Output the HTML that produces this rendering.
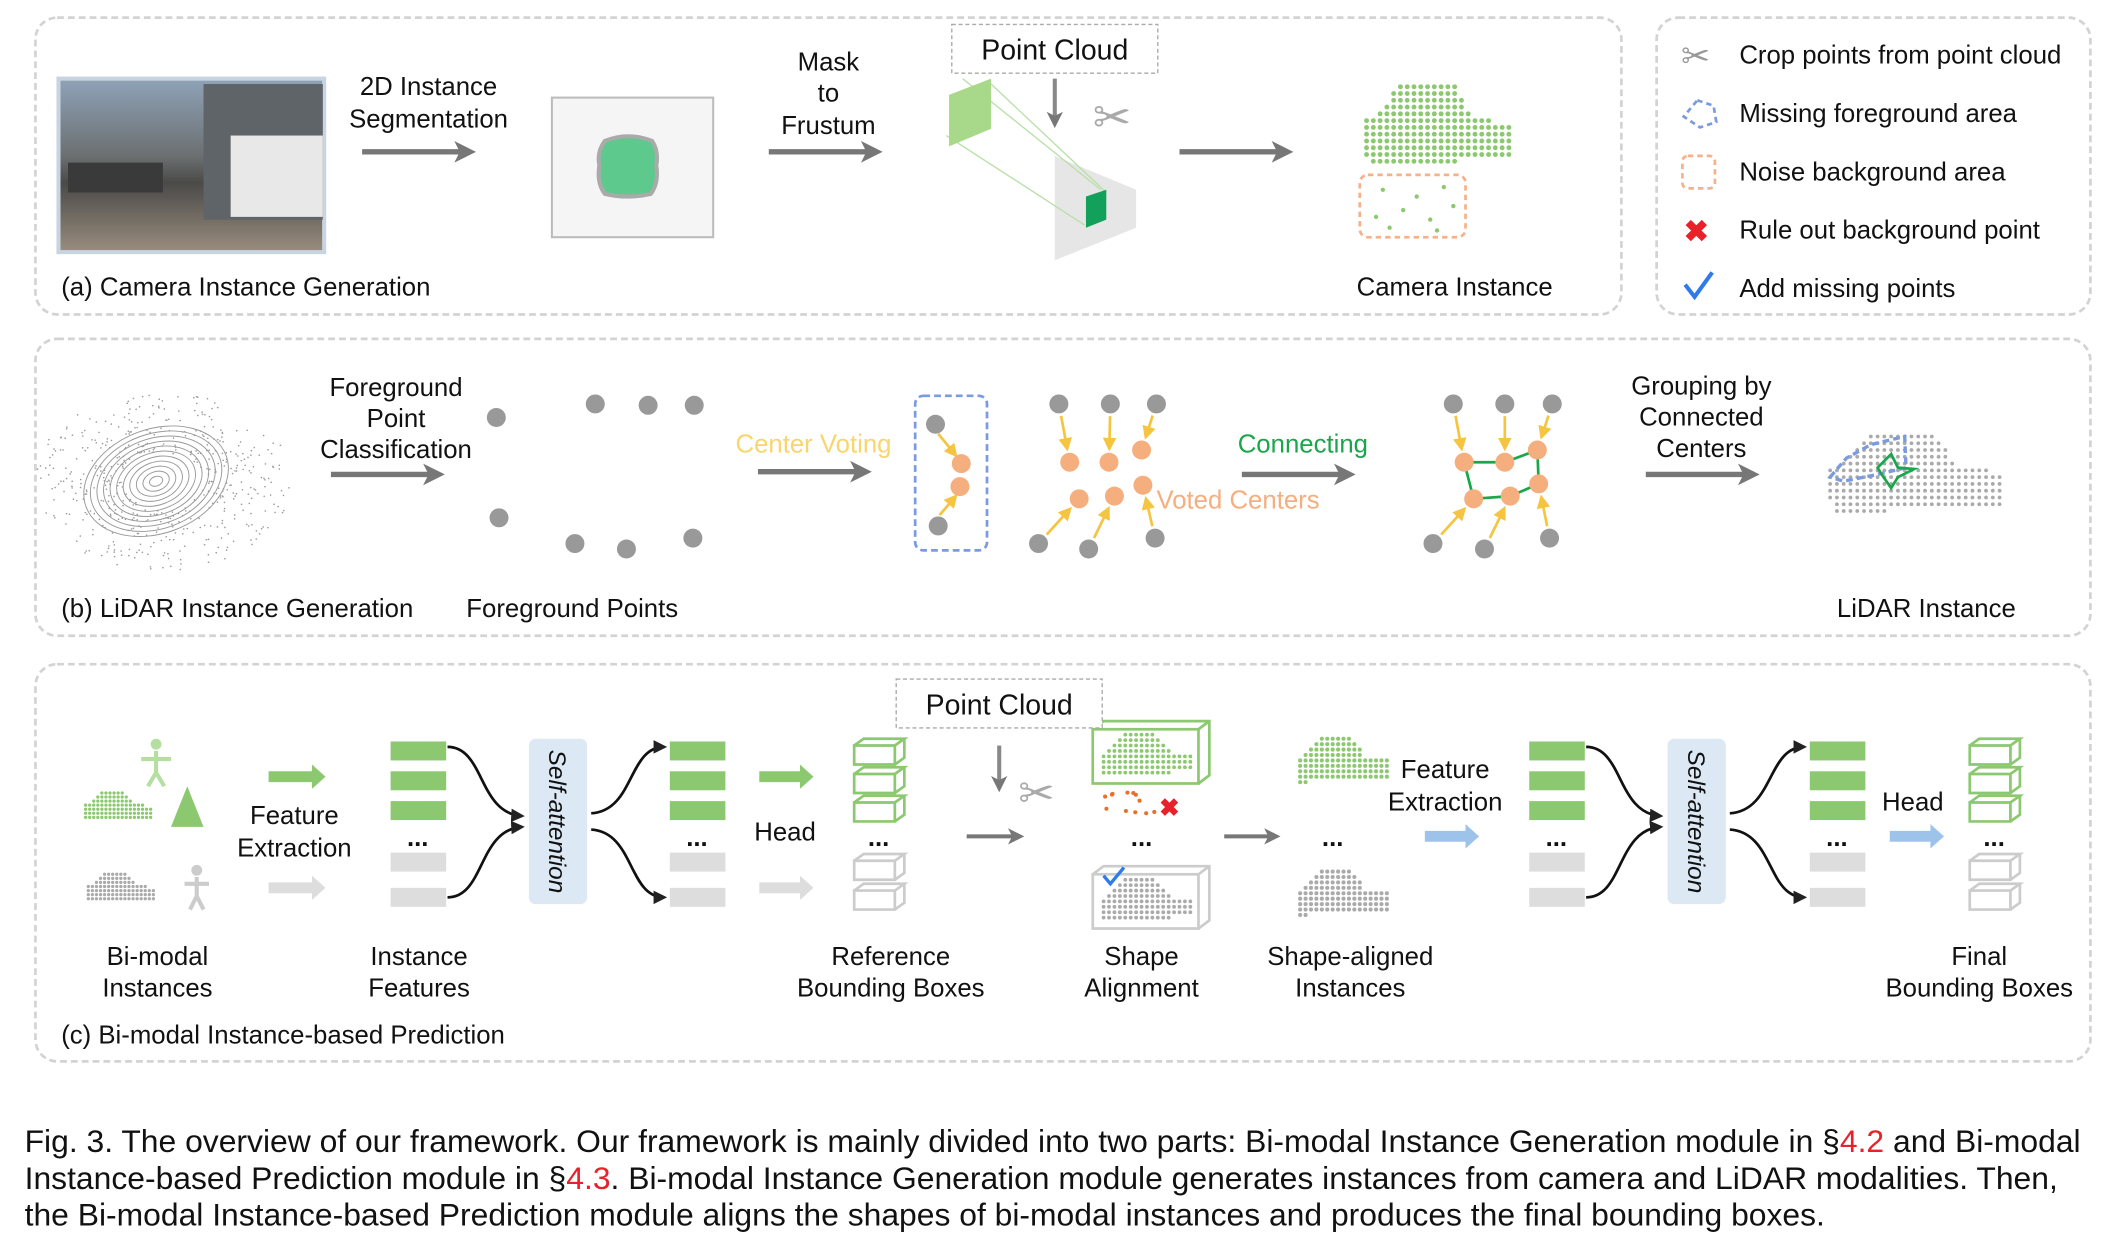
<!DOCTYPE html>
<html><head><meta charset="utf-8"><style>
html,body{margin:0;padding:0;background:#fff;}
svg{display:block;}
text{font-family:"Liberation Sans",Arial,sans-serif;font-size:19px;fill:#111;}
.c{text-anchor:middle;}
.cap{font-size:23.5px;}
</style></head><body>
<svg id="s" width="2115" height="1243" viewBox="0 0 1560 917" xmlns="http://www.w3.org/2000/svg">
<defs>
<marker id="ag" markerWidth="4" markerHeight="4" refX="2.5" refY="2" orient="auto" markerUnits="strokeWidth"><path d="M0,0 L4,2 L0,4 L1,2z" fill="#777"/></marker>
<marker id="ak" markerWidth="5" markerHeight="5" refX="4" refY="2.5" orient="auto" markerUnits="strokeWidth"><path d="M0,0 L5,2.5 L0,5z" fill="#222"/></marker>
<marker id="ay" markerWidth="5" markerHeight="5" refX="4" refY="2.5" orient="auto" markerUnits="strokeWidth"><path d="M0,0 L5,2.5 L0,5z" fill="#f5c542"/></marker>
<linearGradient id="ph" x1="0" y1="0" x2="0" y2="1"><stop offset="0" stop-color="#8fa3b8"/><stop offset="0.45" stop-color="#6b6f70"/><stop offset="0.6" stop-color="#4a4a48"/><stop offset="1" stop-color="#9a8d7e"/></linearGradient>
</defs>
<g fill="none" stroke="#d3d3d3" stroke-width="2" stroke-dasharray="5,3">
<rect x="26" y="13" width="1170" height="219" rx="16"/>
<rect x="1222" y="13" width="320" height="219" rx="16"/>
<rect x="26" y="250" width="1516" height="219" rx="16"/>
<rect x="26" y="490" width="1516" height="293" rx="16"/>
</g>
<rect x="43" y="58" width="196" height="128" fill="url(#ph)" stroke="#c8d4e2" stroke-width="3"/>
<rect x="150" y="62" width="88" height="100" fill="#5e6468"/><rect x="170" y="100" width="68" height="60" fill="#e8e8e8"/>
<rect x="50" y="120" width="70" height="22" fill="#3a3a3a"/>
<text class="c" x="316" y="70">2D Instance</text><text class="c" x="316" y="94">Segmentation</text>
<line x1="267" y1="112" x2="345" y2="112" stroke="#777" stroke-width="4" marker-end="url(#ag)"/>
<rect x="407" y="72" width="119" height="103" fill="#f5f5f5" stroke="#bbb" stroke-width="1.5"/>
<path d="M446,104 Q463,97 481,104 Q486,112 484,122 Q486,135 480,143 Q463,147 446,143 Q440,135 442,122 Q440,112 446,104z" fill="#5dc98d" stroke="#aaa" stroke-width="3"/>
<text class="c" x="611" y="52">Mask</text><text class="c" x="611" y="75">to</text><text class="c" x="611" y="99">Frustum</text>
<line x1="567" y1="112" x2="645" y2="112" stroke="#777" stroke-width="4" marker-end="url(#ag)"/>
<rect x="702" y="18" width="152" height="36" fill="#fff" stroke="#aaa" stroke-dasharray="3,2"/>
<text class="c" x="778" y="44" style="font-size:21px">Point Cloud</text>
<path d="M778,115 L838,140 L838,168 L778,192z" fill="#e6e6e6"/>
<g stroke="#b9e0a8" stroke-width="1" fill="none"><line x1="731" y1="62" x2="816" y2="142"/><line x1="698" y1="100" x2="800" y2="166"/><line x1="710" y1="58" x2="812" y2="140"/></g>
<path d="M700,70 L731,58 L731,95 L700,108z" fill="#a8d88a"/>
<path d="M801,145 L816,140 L816,162 L801,168z" fill="#13a05a"/>
<line x1="778" y1="58" x2="778" y2="90" stroke="#888" stroke-width="3" marker-end="url(#ag)"/>
<text x="806" y="98" style="font-size:34px;fill:#aaa">✂</text>
<line x1="870" y1="112" x2="948" y2="112" stroke="#777" stroke-width="4" marker-end="url(#ag)"/>
<g id="camcar"></g>
<rect x="1003" y="129" width="78" height="46" rx="6" fill="none" stroke="#f5b28a" stroke-width="2" stroke-dasharray="4,3"/>
<g fill="#8cc870"><circle cx="1020" cy="140" r="1.6"/><circle cx="1045" cy="145" r="1.6"/><circle cx="1065" cy="138" r="1.6"/><circle cx="1015" cy="160" r="1.6"/><circle cx="1035" cy="155" r="1.6"/><circle cx="1055" cy="162" r="1.6"/><circle cx="1072" cy="152" r="1.6"/><circle cx="1025" cy="168" r="1.6"/><circle cx="1060" cy="170" r="1.6"/></g>
<text x="45" y="218">(a) Camera Instance Generation</text>
<text class="c" x="1073" y="218">Camera Instance</text>
<text x="1240" y="50" style="font-size:26px;fill:#999">✂</text>
<path d="M1252,74 L1264,78 L1266,90 L1254,94 L1242,86z" fill="none" stroke="#7b9be0" stroke-width="2" stroke-dasharray="4,3"/>
<rect x="1241" y="115" width="24" height="24" rx="4" fill="none" stroke="#f5b28a" stroke-width="2" stroke-dasharray="4,3"/>
<text x="1242" y="178" style="font-size:22px;fill:#e8222a;font-weight:bold">✖</text>
<path d="M1243,210 L1250,219 L1263,201" fill="none" stroke="#2f7bea" stroke-width="3"/>
<text x="1283" y="47">Crop points from point cloud</text>
<text x="1283" y="90">Missing foreground area</text>
<text x="1283" y="133">Noise background area</text>
<text x="1283" y="176">Rule out background point</text>
<text x="1283" y="219">Add missing points</text>
<g id="lidar" fill="none" stroke="#999" stroke-width="0.7"></g>
<text class="c" x="292" y="292">Foreground</text><text class="c" x="292" y="315">Point</text><text class="c" x="292" y="338">Classification</text>
<line x1="244" y1="350" x2="322" y2="350" stroke="#777" stroke-width="4" marker-end="url(#ag)"/>
<g fill="#999"><circle cx="366" cy="308" r="7"/><circle cx="439" cy="298" r="7"/><circle cx="478" cy="299" r="7"/><circle cx="512" cy="299" r="7"/><circle cx="368" cy="382" r="7"/><circle cx="424" cy="401" r="7"/><circle cx="462" cy="405" r="7"/><circle cx="511" cy="397" r="7"/></g>
<text class="c" x="600" y="334" style="fill:#f9d56e">Center Voting</text>
<line x1="559" y1="348" x2="637" y2="348" stroke="#777" stroke-width="4" marker-end="url(#ag)"/>
<rect x="675" y="292" width="53" height="114" rx="6" fill="none" stroke="#7b9be0" stroke-width="2" stroke-dasharray="5,3"/>
<g stroke="#f5c542" stroke-width="2"><line x1="692" y1="320" x2="705" y2="336" marker-end="url(#ay)"/><line x1="693" y1="380" x2="705" y2="366" marker-end="url(#ay)"/></g>
<g fill="#999"><circle cx="690" cy="313" r="7"/><circle cx="692" cy="388" r="7"/></g>
<g fill="#f5ae7e"><circle cx="709" cy="342" r="7"/><circle cx="708" cy="359" r="7"/></g>
<g id="vote"></g>
<text x="853" y="375" style="fill:#f5ae7e">Voted Centers</text>
<text class="c" x="961" y="334" style="fill:#1aa64b">Connecting</text>
<line x1="916" y1="350" x2="994" y2="350" stroke="#777" stroke-width="4" marker-end="url(#ag)"/>
<text class="c" x="1255" y="291">Grouping by</text><text class="c" x="1255" y="314">Connected</text><text class="c" x="1255" y="337">Centers</text>
<line x1="1214" y1="350" x2="1292" y2="350" stroke="#777" stroke-width="4" marker-end="url(#ag)"/>
<g id="lidcar"></g>
<path d="M1350,352 L1362,338 L1380,328 L1405,322 L1406,345 L1385,350 L1360,355z" fill="none" stroke="#7b9be0" stroke-width="2.5" stroke-dasharray="5,3"/>
<path d="M1385,345 L1395,335 L1400,345 L1412,346 L1400,352 L1395,360 L1388,350z" fill="none" stroke="#1aa64b" stroke-width="2"/>
<text x="45" y="455">(b) LiDAR Instance Generation</text>
<text class="c" x="422" y="455">Foreground Points</text>
<text class="c" x="1421" y="455">LiDAR Instance</text>
<g id="pc"></g>
<text class="c" x="116" y="712">Bi-modal</text><text class="c" x="116" y="735">Instances</text>
<text class="c" x="217" y="608">Feature</text><text class="c" x="217" y="632">Extraction</text>
<text class="c" x="309" y="712">Instance</text><text class="c" x="309" y="735">Features</text>
<text class="c" x="579" y="620">Head</text>
<text class="c" x="657" y="712">Reference</text><text class="c" x="657" y="735">Bounding Boxes</text>
<rect x="661" y="501" width="152" height="36" fill="#fff" stroke="#aaa" stroke-dasharray="3,2"/>
<text class="c" x="737" y="527" style="font-size:21px">Point Cloud</text>
<text x="751" y="596" style="font-size:32px;fill:#aaa">✂</text>
<text x="855" y="602" style="font-size:18px;fill:#e8222a;font-weight:bold">✖</text>
<path d="M814,646 L819,652 L829,640" fill="none" stroke="#2f7bea" stroke-width="2.5"/>
<text class="c" x="842" y="712">Shape</text><text class="c" x="842" y="735">Alignment</text>
<text class="c" x="996" y="712">Shape-aligned</text><text class="c" x="996" y="735">Instances</text>
<text class="c" x="1066" y="574">Feature</text><text class="c" x="1066" y="598">Extraction</text>
<text class="c" x="1411" y="598">Head</text>
<text class="c" x="1460" y="712">Final</text><text class="c" x="1460" y="735">Bounding Boxes</text>
<text x="45" y="770">(c) Bi-modal Instance-based Prediction</text>
<text class="cap" x="18" y="850">Fig. 3. The overview of our framework. Our framework is mainly divided into two parts: Bi-modal Instance Generation module in §<tspan fill="#e8222a">4.2</tspan> and Bi-modal</text>
<text class="cap" x="18" y="877">Instance-based Prediction module in §<tspan fill="#e8222a">4.3</tspan>. Bi-modal Instance Generation module generates instances from camera and LiDAR modalities. Then,</text>
<text class="cap" x="18" y="904">the Bi-modal Instance-based Prediction module aligns the shapes of bi-modal instances and produces the final bounding boxes.</text>
</svg>
<script>
var NS="http://www.w3.org/2000/svg";
function el(p,t,a){var e=document.createElementNS(NS,t);for(var k in a)e.setAttribute(k,a[k]);p.appendChild(e);return e;}
function g(id){return document.getElementById(id);}
function car(p,x,y,w,h,col,step,r){
 var poly=[[0,0.45],[0.12,0.3],[0.25,0.0],[0.62,0.0],[0.72,0.35],[1,0.45],[1,0.85],[0.05,0.95]];
 function inside(px,py){var c=false;for(var i=0,j=poly.length-1;i<poly.length;j=i++){var xi=poly[i][0],yi=poly[i][1],xj=poly[j][0],yj=poly[j][1];if(((yi>py)!=(yj>py))&&(px<(xj-xi)*(py-yi)/(yj-yi)+xi))c=!c;}return c;}
 for(var yy=0;yy<=h;yy+=step)for(var xx=0;xx<=w;xx+=step){if(inside(xx/w,yy/h))el(p,"circle",{cx:x+xx,cy:y+yy,r:r,fill:col});}
}
car(g("camcar"),1003,64,115,62,"#8cc870",5,1.8);
car(g("lidcar"),1345,322,135,60,"#aaa",5,1.4);
var L=g("lidar");
for(var i=1;i<12;i++)el(L,"ellipse",{cx:115,cy:355,rx:i*5,ry:i*3.5,transform:"rotate(-20 115 355)"});
for(var i=0;i<500;i++){var a=Math.random()*6.28,d=30+Math.random()*65;el(L,"circle",{cx:120+Math.cos(a)*d*1.0,cy:355+Math.sin(a)*d*0.7,r:0.6,fill:"#999",stroke:"none"});}
var V=g("vote");
function vote(G,grays,oranges,pairs,edges){
 if(edges)edges.forEach(function(e){el(G,"line",{x1:oranges[e[0]][0],y1:oranges[e[0]][1],x2:oranges[e[1]][0],y2:oranges[e[1]][1],stroke:"#1aa64b","stroke-width":2});});
 pairs.forEach(function(pr){var a=grays[pr[0]],b=oranges[pr[1]];var dx=b[0]-a[0],dy=b[1]-a[1],d=Math.sqrt(dx*dx+dy*dy);el(G,"line",{x1:a[0]+dx/d*9,y1:a[1]+dy/d*9,x2:b[0]-dx/d*10,y2:b[1]-dy/d*10,stroke:"#f5c542","stroke-width":2,"marker-end":"url(#ay)"});});
 grays.forEach(function(c){el(G,"circle",{cx:c[0],cy:c[1],r:7,fill:"#999"});});
 oranges.forEach(function(c){el(G,"circle",{cx:c[0],cy:c[1],r:7,fill:"#f5ae7e"});});
}
vote(V,[[781,298],[819,298],[853,298],[766,401],[803,405],[852,397]],[[789,341],[818,341],[842,332],[796,368],[822,366],[843,358]],[[0,0],[1,1],[2,2],[3,3],[4,4],[5,5]]);
vote(V,[[1072,298],[1110,298],[1145,298],[1057,401],[1095,405],[1143,397]],[[1080,341],[1110,341],[1134,332],[1087,368],[1114,366],[1135,357]],[[0,0],[1,1],[2,2],[3,3],[4,4],[5,5]],[[0,1],[1,2],[2,5],[0,3],[3,4],[4,5]]);
var P=g("pc");
function arrow(x1,x2,y,col){el(P,"line",{x1:x1,y1:y,x2:x2-8,y2:y,stroke:col,"stroke-width":8});el(P,"path",{d:"M"+(x2-10)+","+(y-9)+" L"+x2+","+y+" L"+(x2-10)+","+(y+9)+"z",fill:col});}
function stack(x){[547,569,591].forEach(function(y){el(P,"rect",{x:x,y:y,width:41,height:14,fill:"#8cc870"});});
 [629,655].forEach(function(y){el(P,"rect",{x:x,y:y,width:41,height:14,fill:"#ddd"});});
 el(P,"text",{x:x+20,y:624,"text-anchor":"middle",style:"font-weight:bold"}).textContent="...";}
function sa(x){el(P,"rect",{x:x,y:545,width:43,height:122,rx:5,fill:"#dce9f5"});
 var t=el(P,"text",{x:0,y:0,transform:"translate("+(x+15)+",606) rotate(90)","text-anchor":"middle",style:"font-style:italic;font-size:18px"});t.textContent="Self-attention";}
function curves(x1,x2){var m=(x1+x2)/2;
 el(P,"path",{d:"M"+x1+",551 C"+m+",551 "+(m-5)+",600 "+x2+",602",fill:"none",stroke:"#111","stroke-width":2,"marker-end":"url(#ak)"});
 el(P,"path",{d:"M"+x1+",662 C"+m+",662 "+(m-5)+",612 "+x2+",610",fill:"none",stroke:"#111","stroke-width":2,"marker-end":"url(#ak)"});}
function curves2(x1,x2){var m=(x1+x2)/2;
 el(P,"path",{d:"M"+x1+",600 C"+(m+5)+",598 "+m+",551 "+x2+",551",fill:"none",stroke:"#111","stroke-width":2,"marker-end":"url(#ak)"});
 el(P,"path",{d:"M"+x1+",612 C"+(m+5)+",614 "+m+",662 "+x2+",662",fill:"none",stroke:"#111","stroke-width":2,"marker-end":"url(#ak)"});}
function box3(x,y,col){el(P,"path",{d:"M"+x+","+(y+5)+" h30 v14 h-30z M"+x+","+(y+5)+" l7,-5 h30 l-7,5 M"+(x+30)+","+(y+19)+" l7,-5 v-14",fill:"#fff",stroke:col,"stroke-width":2});}
function boxes(x){[545,566,587].forEach(function(y){box3(x,y,"#8cc870");});[630,652].forEach(function(y){box3(x,y,"#ccc");});
 el(P,"text",{x:x+18,y:624,"text-anchor":"middle",style:"font-weight:bold"}).textContent="...";}
car(P,60,585,52,22,"#8cc870",3,1.2);car(P,62,645,52,22,"#aaa",3,1.2);
el(P,"path",{d:"M126,610 L138,580 L150,610z",fill:"#8cc870"});
el(P,"circle",{cx:115,cy:549,r:4,fill:"#b5dfa0"});el(P,"path",{d:"M115,554 v16 M104,560 h22 M115,570 l-6,10 M115,570 l6,10",stroke:"#b5dfa0","stroke-width":3,fill:"none"});
el(P,"circle",{cx:145,cy:642,r:4,fill:"#ccc"});el(P,"path",{d:"M145,647 v14 M136,652 h18 M145,661 l-5,10 M145,661 l5,10",stroke:"#ccc","stroke-width":3,fill:"none"});
arrow(198,240,573,"#8cc870");arrow(198,240,655,"#ddd");
stack(288);curves(330,385);sa(390);curves2(436,490);stack(494);
arrow(560,600,573,"#8cc870");arrow(560,600,655,"#ddd");
boxes(630);
el(P,"line",{x1:737,y1:550,x2:737,y2:580,stroke:"#888","stroke-width":3,"marker-end":"url(#ag)"});
el(P,"line",{x1:713,y1:617,x2:751,y2:617,stroke:"#777","stroke-width":3,"marker-end":"url(#ag)"});
el(P,"rect",{x:806,y:538,width:78,height:40,fill:"none",stroke:"#8cc870","stroke-width":2});
el(P,"path",{d:"M806,538 l8,-6 h78 v40 l-8,6 M884,538 l8,-6",fill:"none",stroke:"#8cc870","stroke-width":2});
car(P,810,542,70,32,"#8cc870",4,1.4);
for(var i=0;i<12;i++)el(P,"circle",{cx:815+Math.random()*38,cy:584+Math.random()*16,r:1.5,fill:"#e8702a"});
el(P,"text",{x:842,y:624,"text-anchor":"middle",style:"font-weight:bold"}).textContent="...";
el(P,"rect",{x:806,y:645,width:78,height:40,fill:"none",stroke:"#ccc","stroke-width":2});
el(P,"path",{d:"M806,645 l8,-6 h78 v40 l-8,6 M884,645 l8,-6",fill:"none",stroke:"#ccc","stroke-width":2});
car(P,810,649,70,32,"#aaa",4,1.4);
el(P,"line",{x1:903,y1:617,x2:940,y2:617,stroke:"#777","stroke-width":3,"marker-end":"url(#ag)"});
car(P,955,545,70,34,"#8cc870",4,1.5);car(P,955,643,70,34,"#aaa",4,1.5);
el(P,"text",{x:983,y:624,"text-anchor":"middle",style:"font-weight:bold"}).textContent="...";
arrow(1051,1091,617,"#9ec3ea");
stack(1128);curves(1170,1225);sa(1230);curves2(1276,1331);stack(1335);
arrow(1394,1434,617,"#9ec3ea");
boxes(1453);
</script>
</body></html>
